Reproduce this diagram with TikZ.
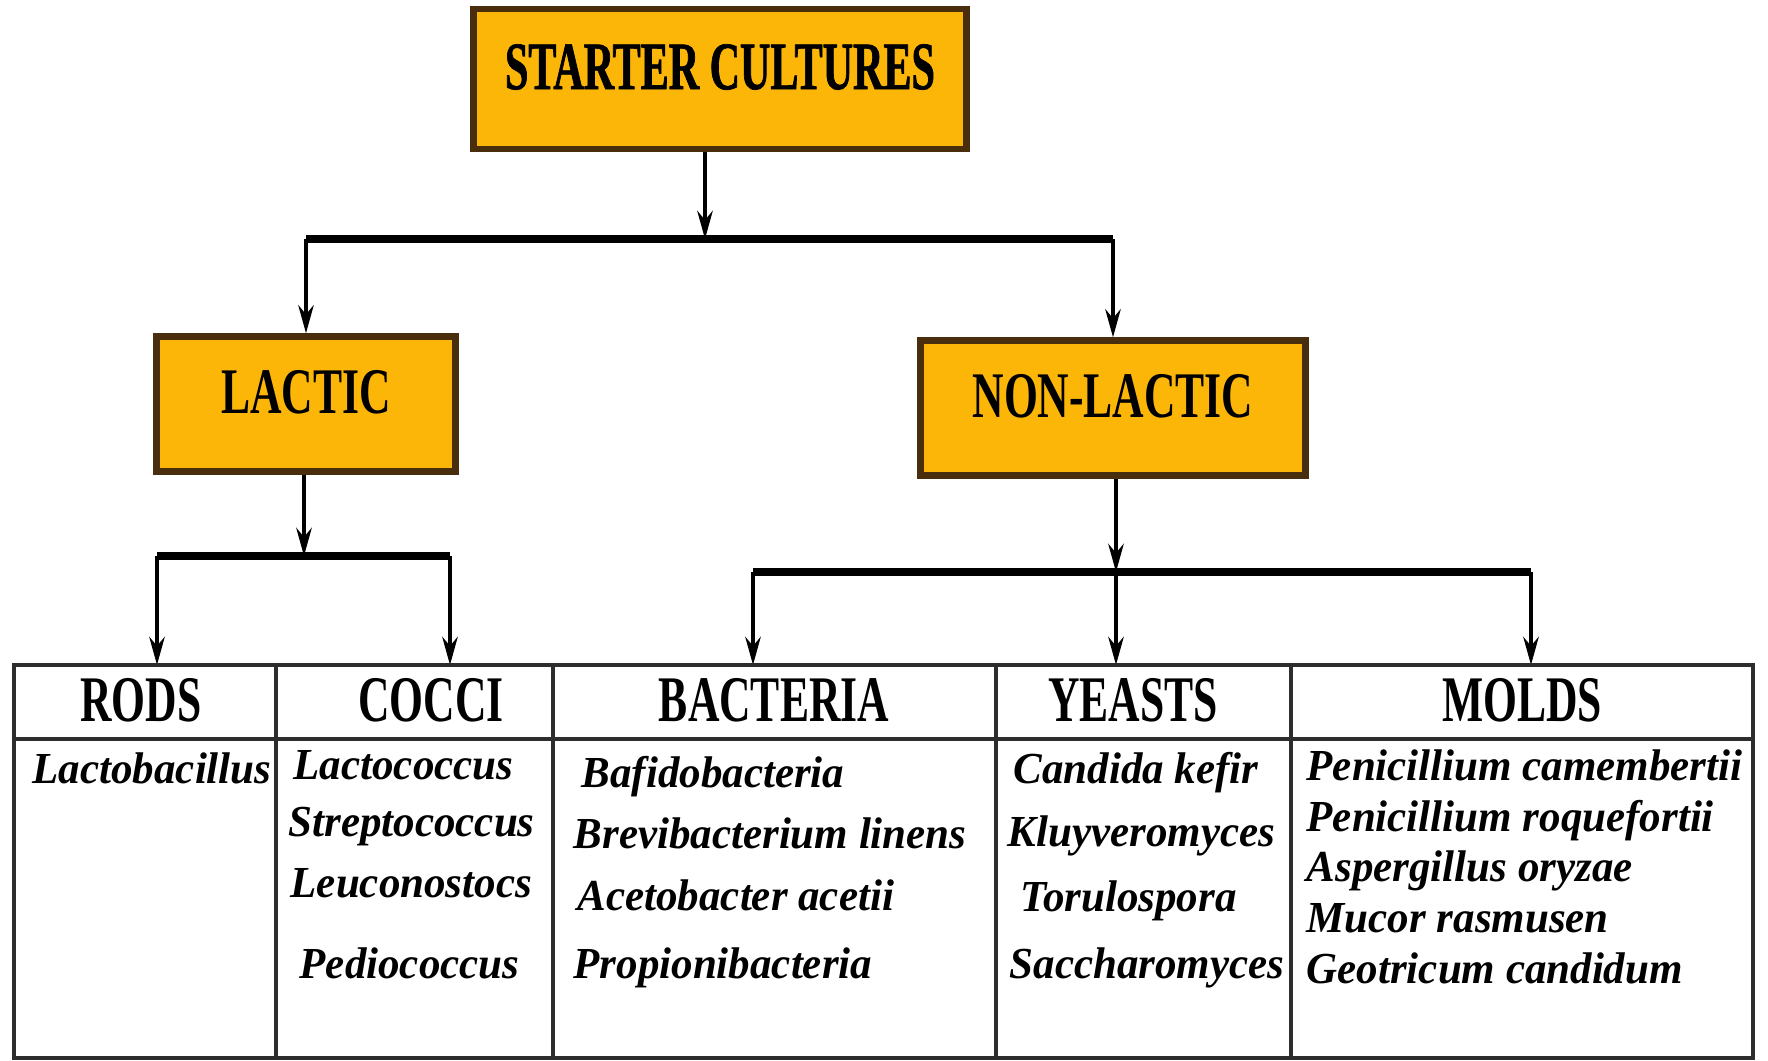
\documentclass[tikz,border=0pt]{standalone}
\usepackage{fontspec}
\setmainfont{Liberation Serif}
\newfontfamily\condfont[FakeStretch=0.67]{Liberation Serif}
\newfontfamily\genusfont[FakeStretch=0.97]{Liberation Serif}
\newfontfamily\titlefont[FakeStretch=0.62,FakeBold=1]{Liberation Serif}
\usetikzlibrary{positioning,arrows.meta}
\definecolor{boxfill}{RGB}{252,182,8}
\definecolor{boxline}{RGB}{72,46,12}
\definecolor{gridline}{RGB}{45,45,45}

\begin{document}
\begin{tikzpicture}[x=0.01cm, y=-0.01cm, >={Stealth[length=8pt,width=4.4pt]}, every node/.style={font=\normalsize}]
\tikzset{
  catbox/.style={
    draw=boxline,
    fill=boxfill,
    line width=1.8pt,
    minimum height=1.35cm,
    inner sep=0pt,
    text depth=7pt,
    font=\condfont\bfseries\fontsize{18.5}{20}\selectfont,
  },
  colhead/.style={anchor=base, inner sep=0pt, font=\condfont\bfseries\fontsize{18.5}{20}\selectfont},
  genus/.style={anchor=base west, inner sep=0pt, font=\genusfont\bfseries\itshape\fontsize{12.6}{14}\selectfont},
  stem/.style={line width=1.1pt},
  bar/.style={line width=2pt},
  grid/.style={draw=gridline, line width=0.9pt}
}
\useasboundingbox (0,0) rectangle (1768,1061);
\node[catbox, minimum width=4.93cm, minimum height=1.40cm, font=\titlefont\bfseries\fontsize{19.3}{21}\selectfont] (starter) at (720,79) {STARTER CULTURES};
\node[catbox, minimum width=2.99cm] (lactic) at (306,404) {LACTIC};
\node[catbox, minimum width=3.85cm] (nonlactic) at (1113,408) {NON-LACTIC};
\coordinate (split) at (705,239);
\coordinate (lsplit) at (304,556);
\coordinate (nsplit) at (1116,572);
\coordinate (tabletop) at (0,665);
\coordinate (rodsarr) at (157,556);
\coordinate (cocciarr) at (450,556);
\coordinate (bactarr) at (753,572);
\coordinate (moldsarr) at (1531,572);
\draw[stem,->] (starter.south -| split) -- (split);
\draw[bar] (lactic.north |- split) -- (nonlactic.north |- split);
\draw[stem,->] (lactic.north |- split) -- (lactic.north);
\draw[stem,->] (nonlactic.north |- split) -- (nonlactic.north);
\draw[stem,->] (lactic.south -| lsplit) -- (lsplit);
\draw[bar] (rodsarr) -- (cocciarr);
\draw[stem,->] (rodsarr) -- (rodsarr |- tabletop);
\draw[stem,->] (cocciarr) -- (cocciarr |- tabletop);
\draw[stem,->] (nonlactic.south -| nsplit) -- (nsplit);
\draw[bar] (bactarr) -- (moldsarr);
\draw[stem,->] (bactarr) -- (bactarr |- tabletop);
\draw[stem,->] (nsplit) -- (nsplit |- tabletop);
\draw[stem,->] (moldsarr) -- (moldsarr |- tabletop);
\draw[grid] (14,665) rectangle (1753,1058);
\draw[grid] (14,739) -- (1753,739);
\foreach \x in {276,553,996,1291}
  \draw[grid] (\x,665) -- (\x,1058);
\node[colhead] (rods) at (141,722) {RODS};
\node[colhead] (cocci) at (431,722) {COCCI};
\node[colhead] (bacteria) at (774,722) {BACTERIA};
\node[colhead] (yeasts) at (1133,722) {YEASTS};
\node[colhead] (molds) at (1522,722) {MOLDS};
\node[genus] (lactobacillus) at (32,784) {Lactobacillus};
\node[genus] (lactococcus) at (293,780) {Lactococcus};
\node[genus] (streptococcus) at (288,837) {Streptococcus};
\node[genus] (leuconostocs) at (290,898) {Leuconostocs};
\node[genus] (pediococcus) at (299,979) {Pediococcus};
\node[genus] (bafido) at (581,788) {Bafidobacteria};
\node[genus] (brevi) at (573,849) {Brevibacterium linens};
\node[genus] (aceto) at (577,911) {Acetobacter acetii};
\node[genus] (propioni) at (573,979) {Propionibacteria};
\node[genus] (candida) at (1013,784) {Candida kefir};
\node[genus] (kluyvero) at (1007,847) {Kluyveromyces};
\node[genus] (torulo) at (1020,912) {Torulospora};
\node[genus] (saccharo) at (1009,979) {Saccharomyces};
\node[genus] (camemb) at (1306,781) {Penicillium camembertii};
\node[genus] (roquef) at (1306,832) {Penicillium roquefortii};
\node[genus] (asperg) at (1306,882) {Aspergillus oryzae};
\node[genus] (mucor) at (1306,933) {Mucor rasmusen};
\node[genus] (geotri) at (1306,984) {Geotricum candidum};
\end{tikzpicture}
\end{document}
